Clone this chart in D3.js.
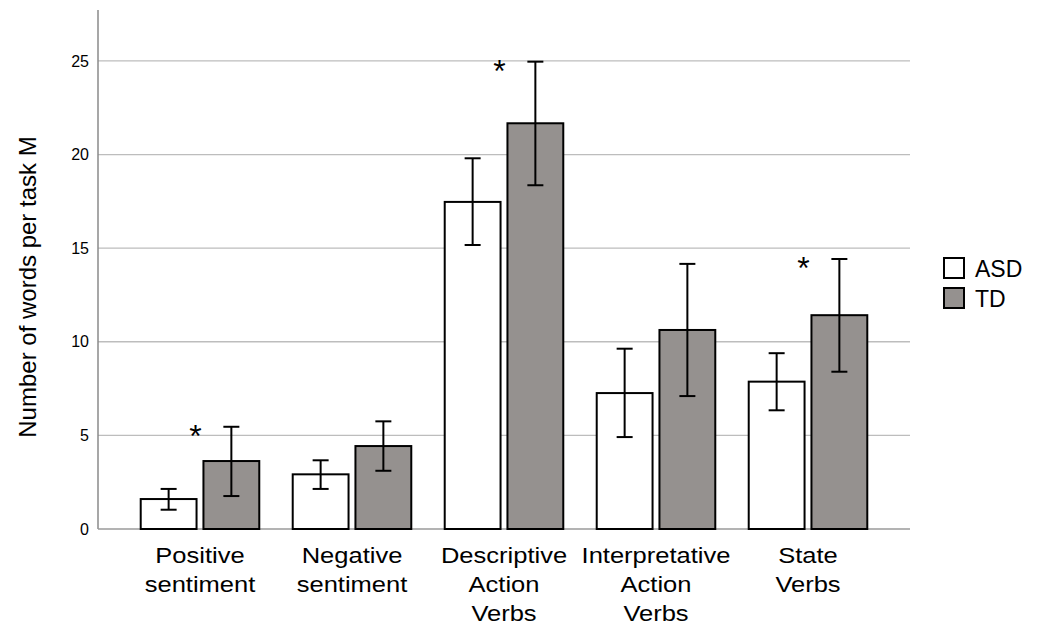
<!DOCTYPE html>
<html><head><meta charset="utf-8">
<script src="https://cdn.jsdelivr.net/npm/d3@7"></script>
<style>body{margin:0;background:#fff}svg{display:block;font-family:"Liberation Sans",Arial,sans-serif}</style>
</head><body><svg id="c" width="1046" height="626"></svg>
<script>
const categories = [["Positive","sentiment"],["Negative","sentiment"],["Descriptive","Action","Verbs"],["Interpretative","Action","Verbs"],["State","Verbs"]];
const groups = ["ASD","TD"];
const asdMean = [1.60, 2.92, 17.47, 7.26, 7.87];
const asdLow  = [1.03, 2.14, 15.17, 4.91, 6.34];
const asdHigh = [2.14, 3.67, 19.80, 9.63, 9.39];
const tdMean  = [3.63, 4.43, 21.67, 10.63, 11.42];
const tdLow   = [1.76, 3.11, 18.36, 7.10, 8.40];
const tdHigh  = [5.46, 5.75, 24.96, 14.16, 14.42];
const significant = [true, false, true, false, true];
const yTicks = [0, 5, 10, 15, 20, 25];
const colors = {ASD:"#ffffff", TD:"#95918f"};

const svg = d3.select("#c");
const L = 98, R = 910, T = 10, B = 529;
const ids = categories.map((c,i)=>"c"+i);
const x0 = d3.scaleBand().domain(ids).range([L,R]).paddingInner(0.22).paddingOuter(0.281);
const x1 = d3.scaleBand().domain(groups).range([0,x0.bandwidth()]).paddingInner(0.11);
const y = d3.scaleLinear().domain([0,27.72]).range([B,T]);

// gridlines
svg.append("g").selectAll("line").data(yTicks.filter(d=>d>0)).join("line")
  .attr("x1",L).attr("x2",R).attr("y1",d=>y(d)).attr("y2",d=>y(d))
  .attr("stroke","#bdbdbd").attr("stroke-width",1.3);

// y axis
const yAxis = d3.axisLeft(y).tickValues(yTicks).tickSize(0).tickPadding(9);
const ga = svg.append("g").attr("transform",`translate(${L},0)`).call(yAxis);
ga.select(".domain").remove();
ga.selectAll("text").attr("font-size",16).attr("fill","#000").attr("font-family","Liberation Sans, Arial, sans-serif");
svg.append("line").attr("x1",L).attr("x2",L).attr("y1",T).attr("y2",B).attr("stroke","#8a8a8a").attr("stroke-width",1.5);
svg.append("line").attr("x1",L).attr("x2",R).attr("y1",B).attr("y2",B).attr("stroke","#9a9a9a").attr("stroke-width",1.5);

// bars
const rows = [];
ids.forEach((id,i)=>{
  rows.push({id,g:"ASD",m:asdMean[i],lo:asdLow[i],hi:asdHigh[i]});
  rows.push({id,g:"TD",m:tdMean[i],lo:tdLow[i],hi:tdHigh[i]});
});
const bars = svg.append("g");
bars.selectAll("rect").data(rows).join("rect")
  .attr("x",d=>x0(d.id)+x1(d.g)).attr("width",x1.bandwidth())
  .attr("y",d=>y(d.m)).attr("height",d=>y(0)-y(d.m))
  .attr("fill",d=>colors[d.g]).attr("stroke","#000").attr("stroke-width",2);

// error bars
const eb = svg.append("g").attr("stroke","#000").attr("stroke-width",2);
rows.forEach(d=>{
  const cx = x0(d.id)+x1(d.g)+x1.bandwidth()/2;
  eb.append("line").attr("x1",cx).attr("x2",cx).attr("y1",y(d.lo)).attr("y2",y(d.hi));
  eb.append("line").attr("x1",cx-8).attr("x2",cx+8).attr("y1",y(d.lo)).attr("y2",y(d.lo));
  eb.append("line").attr("x1",cx-8).attr("x2",cx+8).attr("y1",y(d.hi)).attr("y2",y(d.hi));
});

// significance stars
ids.forEach((id,i)=>{
  if(!significant[i]) return;
  svg.append("text").attr("x",x0(id)+x1.bandwidth()-1).attr("y",y(tdHigh[i])+20)
    .attr("text-anchor","middle").attr("font-size",32).text("*");
});

// category labels (horizontally widened like the reference)
ids.forEach((id,i)=>{
  const cx = x0(id)+x0.bandwidth()/2;
  const t = svg.append("text").attr("text-anchor","middle").attr("font-size",22)
    .attr("transform",`translate(${cx},563) scale(1.16,1)`);
  categories[i].forEach((ln,j)=>t.append("tspan").attr("x",0).attr("y",j*29).text(ln));
});

// y title
svg.append("text").attr("transform","translate(36,287) rotate(-90)").attr("text-anchor","middle")
  .attr("font-size",24).text("Number of words per task M");

// legend
const lg = svg.append("g");
groups.forEach((g,i)=>{
  lg.append("rect").attr("x",944).attr("y",258+i*30).attr("width",20).attr("height",20)
    .attr("fill",colors[g]).attr("stroke","#000").attr("stroke-width",2);
  lg.append("text").attr("x",975).attr("y",277+i*30).attr("font-size",23).text(g);
});
</script></body></html>
